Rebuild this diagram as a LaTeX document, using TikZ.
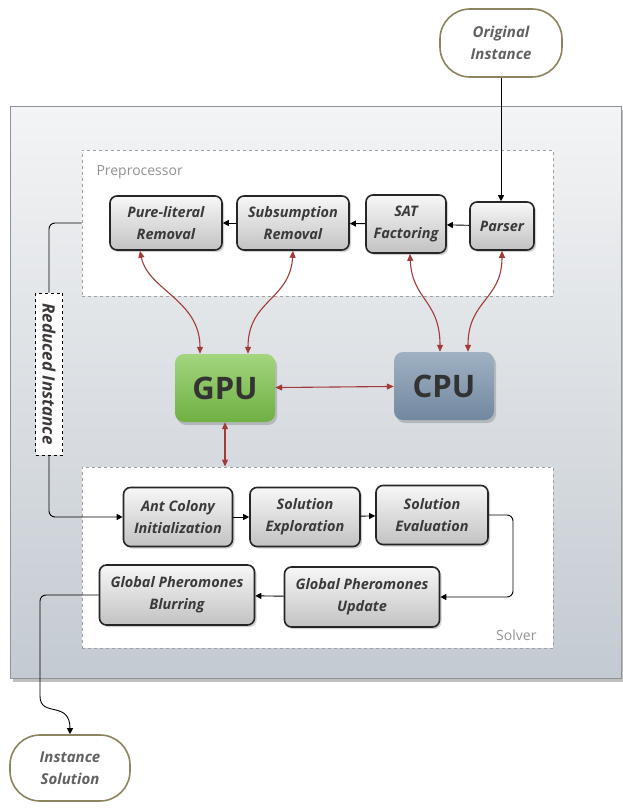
\documentclass[tikz,border=0pt]{standalone}
\usepackage{fontspec}
\setmainfont{Open Sans}
\usetikzlibrary{shadows,arrows.meta,calc}

\definecolor{boxline}{HTML}{262626}
\definecolor{boxtop}{HTML}{F7F7F7}
\definecolor{boxbot}{HTML}{C2C2C2}
\definecolor{textgray}{HTML}{3A3A3A}
\definecolor{ovalline}{HTML}{8C8460}
\definecolor{panelline}{HTML}{8E9499}
\definecolor{paneltop}{HTML}{F3F4F5}
\definecolor{panelbot}{HTML}{C3CAD1}
\definecolor{arrowred}{HTML}{A33A3A}
\definecolor{gpugreen}{HTML}{8CCB5E}
\definecolor{gpugreendark}{HTML}{6FB043}
\definecolor{cpublue}{HTML}{8FA3B8}
\definecolor{cpubluedark}{HTML}{7288A0}

\begin{document}
\begin{tikzpicture}[x=1pt,y=-1pt,
  proc/.style={draw=boxline, line width=1.6pt, rounded corners=7pt,
    top color=boxtop, bottom color=boxbot, align=center,
    font=\fontsize{14.5}{22}\selectfont\bfseries\itshape, text=textgray,
    inner sep=1pt,
    drop shadow={shadow xshift=2pt, shadow yshift=-2pt, opacity=0.35}},
  oval/.style={draw=ovalline, line width=1.6pt, rounded corners=30pt,
    fill=white, align=center, minimum width=122pt, minimum height=68pt,
    font=\fontsize{15}{22}\selectfont\bfseries\itshape, text=textgray!80},
  chip/.style={rounded corners=9pt, minimum width=100pt, minimum height=68pt,
    font=\fontsize{31}{33}\selectfont\bfseries, text=black!80,
    drop shadow={shadow xshift=2pt, shadow yshift=-3pt, opacity=0.4}},
  group/.style={draw=gray!75, dashed, line width=0.9pt},
  flow/.style={draw=black, line width=0.9pt,
    -{Triangle[length=6pt,width=6pt]}},
  link/.style={draw=black, line width=0.9pt},
  busarrow/.style={draw=arrowred, line width=1.1pt,
    {Triangle[length=7pt,width=6pt]}-{Triangle[length=7pt,width=6pt]}},
  grouplabel/.style={font=\fontsize{14}{16}\selectfont, text=gray!85, anchor=west}
]
\useasboundingbox (0,0) rectangle (622,810);

% background panel
\fill[black, opacity=0.25] (13,110) rectangle (625,682);
\draw[panelline, line width=1pt, top color=paneltop, bottom color=panelbot]
  (10,107) rectangle (621,678);

% group frames
\node[group, fill=white, minimum width=471pt, minimum height=146pt] (pre) at (317.5,223) {};
\node[grouplabel] (prelabel) at (93,172) {Preprocessor};
\node[group, fill=white, minimum width=471pt, minimum height=181pt] (solver) at (317.5,557.5) {};
\node[grouplabel, anchor=east] (solverlabel) at (540,635) {Solver};

% terminals
\node[oval] (orig) at (501,43) {Original\\Instance};
\node[oval, minimum width=120pt, minimum height=66pt] (sol) at (70,768) {Instance\\Solution};

% preprocessing stages
\node[proc, minimum width=112pt, minimum height=54pt] (pure) at (166,223) {Pure-literal\\Removal};
\node[proc, minimum width=112pt, minimum height=54pt] (subs) at (293,223) {Subsumption\\Removal};
\node[proc, minimum width=80pt, minimum height=58pt] (sat) at (406,224) {SAT\\Factoring};
\node[proc, minimum width=64pt, minimum height=48pt] (parser) at (502,226) {Parser};

% processors
\node[chip, top color=gpugreen!80!white, bottom color=gpugreendark] (gpu) at (225,388) {GPU};
\node[chip, top color=cpublue!85!white, bottom color=cpubluedark] (cpu) at (444,386) {CPU};

% solver stages
\node[proc, minimum width=109pt, minimum height=59pt] (ant) at (178,517) {Ant Colony\\Initialization};
\node[proc, minimum width=110pt, minimum height=59pt] (expl) at (305,517) {Solution\\Exploration};
\node[proc, minimum width=112pt, minimum height=59pt] (eval) at (432,515) {Solution\\Evaluation};
\node[proc, minimum width=155pt, minimum height=60pt] (upd) at (362,597) {Global Pheromones\\Update};
\node[proc, minimum width=155pt, minimum height=60pt] (blur) at (177,595) {Global Pheromones\\Blurring};

% reduced instance tag
\node[draw=black, dashed, line width=0.8pt, fill=white, minimum width=27pt,
  minimum height=162pt, inner sep=0pt,
  font=\fontsize{17}{19}\selectfont\bfseries\itshape, text=textgray] (red) at (49,374)
  {\rotatebox{-90}{Reduced Instance}};

% data flow
\draw[flow] (orig.south) -- (orig.south |- parser.north);
\draw[flow] (parser) -- (sat);
\draw[flow] (sat) -- (subs);
\draw[flow] (subs) -- (pure);
\draw[link, rounded corners=6pt] (pre.west) -| (red.north);
\draw[flow, rounded corners=6pt] (red.south) |- (ant.west);
\draw[flow] (ant) -- (expl);
\draw[flow] (expl) -- (eval);
\coordinate (loopx) at (513,0);
\draw[flow, rounded corners=6pt] (eval.east) -| (loopx |- upd.east) -- (upd.east);
\draw[flow] (upd) -- (blur);
\coordinate (drop) at (40,690);
\draw[flow, rounded corners=6pt] (blur.west) -| (drop)
  .. controls (40,718) and (70,700) .. (sol.north);

% processor links
\draw[busarrow] ([xshift=-26pt]pure.south) .. controls (148,290) and (200,300) .. ([xshift=-25pt]gpu.north);
\draw[busarrow] (subs.south) .. controls (290,300) and (248,300) .. ([xshift=23pt]gpu.north);
\draw[busarrow] ([xshift=4pt]sat.south) .. controls (412,300) and (440,300) .. ([xshift=-4pt]cpu.north);
\draw[busarrow] (parser.south) .. controls (502,300) and (468,300) .. ([xshift=24pt]cpu.north);
\draw[busarrow] (gpu) -- (cpu);
\draw[busarrow] (gpu.south) -- (gpu.south |- solver.north);
\end{tikzpicture}
\end{document}
